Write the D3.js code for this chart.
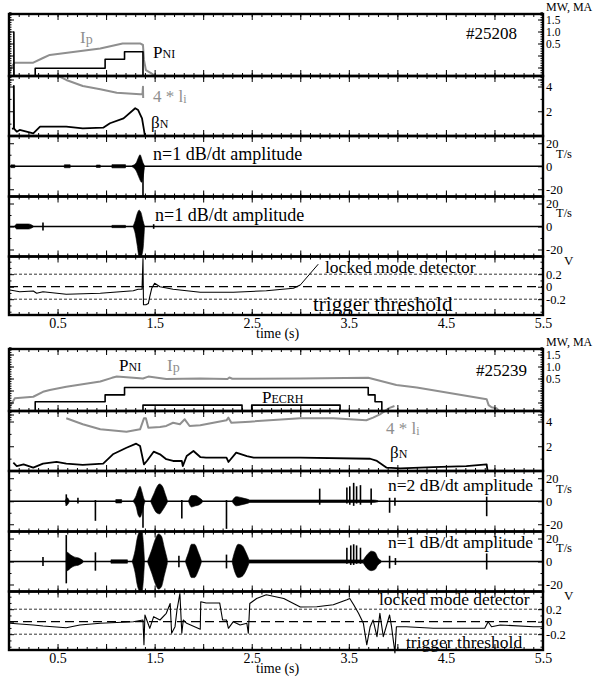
<!DOCTYPE html>
<html><head><meta charset="utf-8">
<script src="https://cdn.jsdelivr.net/npm/d3@7"></script>
<style>
body{margin:0;background:#fff}
svg{display:block}
text{font-family:"Liberation Serif","Times New Roman",serif;fill:#000}
</style>
</head><body><svg id="c" width="603" height="681"></svg>
<script>
// ---------------- DATA ----------------
const timeDomain = [0, 5.5];
const xTickLabels = [0.5, 1.5, 2.5, 3.5, 4.5, 5.5];
const p1Labels = [0.5, 1.0, 1.5];
const p2Labels = [2, 4];
const p3Labels = [-20, 0, 20];
const p5Labels = [-0.2, 0, 0.2];
const thresholds = [0.2, -0.2];

// Shot #25208
const a_shot = "#25208";
const a_ip = [[0,0.06],[0.03,0.32],[0.06,0.43],[0.25,0.43],[0.35,0.58],[0.42,0.68],[0.6,0.75],[0.94,0.89],[1.17,1.05],[1.35,1.05],[1.38,1.0],[1.39,0.52],[1.41,0.19],[1.48,0.06],[1.5,0]];
const a_pni = [[0.05,0],[0.05,1.42],[0.052,0],[0.27,0],[0.27,0.25],[0.99,0.25],[0.99,0.54],[1.19,0.54],[1.19,0.78],[1.38,0.78],[1.38,0]];
const a_li = [[0.51,4.85],[0.59,4.53],[0.76,4.04],[0.94,3.78],[1.11,3.5],[1.35,3.37],[1.375,3.4],[1.38,3.99],[1.382,3.07]];
const a_bn = [[0.03,0.6],[0.05,0.62],[0.05,4.04],[0.052,0.6],[0.08,0.35],[0.11,0.49],[0.18,0.35],[0.25,0.22],[0.32,0.75],[0.59,0.75],[0.76,0.62],[0.97,0.67],[1.04,1.03],[1.18,1.43],[1.30,2.24],[1.33,2.1],[1.37,1.43],[1.39,0.49],[1.40,0]];
const a_n1a_bursts = [
  [[0.02,1.2,-1.2],[0.06,1.2,-1.2]],
  [[0.57,1.3,-1.3],[0.63,1.3,-1.3]],
  [[0.90,1.1,-1.1],[0.94,1.1,-1.1]],
  [[1.06,1.4,-1.4],[1.20,1.4,-1.4]],
  [[1.27,0.6,-0.6],[1.31,3,-4],[1.335,8,-9],[1.35,10,-12],[1.365,7,-14],[1.38,3,-10],[1.395,0.6,-1]]
];
const a_n1a_spikes = [[1.38,-26.3,2]];
const a_n1b_bursts = [
  [[0.06,0.5,-0.5],[0.08,2.2,-2.2],[0.2,2.2,-2.2],[0.25,0.5,-0.5]],
  [[1.06,1,-1],[1.2,1,-1]],
  [[1.28,0.6,-0.6],[1.30,5,-6],[1.32,11,-16],[1.34,14.2,-26],[1.36,12,-26],[1.38,5,-20],[1.395,0.6,-1]]
];
const a_n1b_spikes = [[0.35,-3.5,3.5],[1.49,-2,2]];
const a_lm = [[0.01,-0.053],[0.11,-0.08],[0.25,-0.069],[0.285,-0.106],[0.35,-0.08],[0.59,-0.12],[0.94,-0.106],[1.28,-0.064],[1.33,-0.042],[1.37,-0.042],[1.38,0.45],[1.385,-0.29],[1.41,-0.29],[1.435,-0.27],[1.45,-0.16],[1.47,-0.026],[1.50,0.054],[1.555,0],[1.69,-0.042],[1.97,-0.09],[2.31,-0.09],[2.65,-0.064],[2.93,-0.026],[3.0,0.027]];
const a_pointer = [[3.0,0.027],[3.185,0.36]];

// Shot #25239
const b_shot = "#25239";
const b_ip = [[0,0.09],[0.06,0.41],[0.25,0.46],[0.35,0.62],[0.42,0.68],[0.59,0.78],[0.94,0.95],[1.06,1.07],[1.11,1.11],[1.38,1.05],[1.435,1.11],[1.62,1.03],[1.97,1.05],[2.25,1.03],[2.27,1.08],[2.3,1.04],[3.0,1.05],[3.70,1.07],[3.99,0.84],[4.2,0.76],[4.92,0.38],[4.94,0.19],[4.97,0.12],[5.02,0.09],[5.05,0]];
const b_pni = [[0.27,0],[0.27,0.3],[0.99,0.3],[0.99,0.52],[1.19,0.52],[1.19,0.76],[3.70,0.76],[3.70,0.52],[3.77,0.52],[3.77,0.3],[3.84,0.3],[3.84,0]];
const b_ecrh = [[1.38,0],[1.38,0.19],[2.40,0.19],[2.40,0],[2.50,0],[2.50,0.19],[3.41,0.19],[3.41,0]];
const b_li = [[0.59,4.26],[0.76,3.78],[0.94,3.37],[1.21,3.18],[1.35,3.37],[1.39,4.26],[1.41,4.26],[1.435,3.5],[1.555,3.56],[1.62,3.64],[1.69,3.9],[1.76,3.78],[1.81,4.18],[1.86,3.64],[1.97,3.69],[2.24,4.1],[2.26,4.31],[2.29,3.9],[2.48,3.99],[3.0,4.26],[3.34,4.26],[3.68,4.1],[3.75,4.31],[3.82,4.58],[3.92,5.1],[3.97,5.25]];
const b_bn = [[0.045,0.67],[0.08,0.4],[0.15,0.54],[0.25,0.27],[0.35,0.59],[0.49,0.73],[0.59,0.59],[0.76,0.49],[0.97,0.59],[1.07,1.35],[1.21,1.88],[1.31,2.21],[1.35,2.02],[1.39,0.54],[1.42,0.81],[1.49,1.56],[1.555,1.35],[1.62,0.95],[1.69,0.81],[1.78,0.81],[1.79,0.4],[1.83,1.21],[1.90,1.62],[1.97,1.13],[2.03,1.08],[2.24,1.08],[2.26,0.73],[2.34,1.48],[2.45,1.21],[2.52,1.08],[3.0,1.08],[3.72,0.99],[3.79,0.81],[3.89,0.27],[4.03,0.22],[4.37,0.32],[4.71,0.4],[4.92,0.54],[4.925,0.22],[4.93,0]];
const b_n2_bursts = [
  [[0.58,0.5,-0.5],[0.6,3,-3],[0.62,0.5,-0.5]],
  [[1.10,1.5,-1.5],[1.16,1.5,-1.5]],
  [[1.28,0.5,-0.5],[1.31,5,-5],[1.33,10,-12],[1.35,13,-14],[1.37,8,-10],[1.39,2,-3],[1.40,0.5,-0.5]],
  [[1.46,0.5,-0.5],[1.49,6,-6],[1.52,12,-10],[1.55,15,-11],[1.58,13,-8],[1.61,6,-4],[1.63,1,-1]],
  [[1.85,0.5,-0.5],[1.88,5,-5],[1.92,5,-4],[1.96,3,-3],[1.99,1,-1]],
  [[2.30,0.5,-0.5],[2.34,4,-4],[2.40,3,-3],[2.47,1.5,-1.5]],
  [[2.47,1.1,-1.1],[3.75,1.1,-1.1],[3.8,0.5,-0.5]]
];
const b_n2_spikes = [[0.59,-4,6],[0.71,-2,3],[0.89,-17,1],[1.38,-23,1],[1.78,-15,1],[2.24,-24,1],[3.2,-3,11],[3.48,-2,12],[3.51,-3,13],[3.55,-4,16],[3.58,-2,13],[3.62,-3,14],[3.73,-3,11],[3.92,-10,3],[3.975,-4,3],[4.92,-13,4]];
const b_n1_bursts = [
  [[0.59,0.5,-0.5],[0.6,8,-8],[0.63,6,-6],[0.67,4,-4],[0.72,3,-3],[0.76,1,-1]],
  [[1.05,1.5,-1.5],[1.22,1.5,-1.5]],
  [[1.27,0.5,-0.5],[1.30,10,-10],[1.32,20,-20],[1.35,26,-26],[1.37,26,-26],[1.385,15,-15],[1.395,1,-1]],
  [[1.43,1,-1],[1.47,10,-10],[1.51,20,-20],[1.54,24,-24],[1.57,22,-22],[1.60,12,-12],[1.63,2,-2]],
  [[1.82,1,-1],[1.85,8,-8],[1.88,15,-14],[1.91,15,-14],[1.95,8,-8],[1.98,1,-1]],
  [[2.30,1,-1],[2.33,10,-10],[2.36,15,-14],[2.40,14,-13],[2.44,8,-8],[2.47,2,-2]],
  [[2.47,1.4,-1.4],[3.65,1.4,-1.4]],
  [[3.65,1.5,-1.5],[3.70,7,-7],[3.73,9,-8],[3.77,8,-7],[3.80,3,-3],[3.83,1,-1]]
];
const b_n1_spikes = [[0.35,-4,4],[0.59,-19,23],[0.89,-8,8],[1.75,-5,5],[2.24,-6,6],[3.48,-2,12],[3.52,-3,14],[3.55,-3,15],[3.58,-2,14],[3.62,-2,12],[3.92,-6,5],[3.98,-3,3],[4.92,-7,7]];
const b_lm = [[0.01,-0.026],[0.11,-0.037],[0.25,-0.053],[0.35,-0.069],[0.59,-0.096],[0.73,-0.053],[0.94,-0.026],[1.28,0],[1.38,0.027],[1.39,-0.37],[1.40,0.107],[1.45,-0.106],[1.49,0.08],[1.555,0.027],[1.62,0.134],[1.66,0.29],[1.675,-0.186],[1.71,-0.08],[1.73,0.187],[1.76,0.45],[1.78,-0.186],[1.795,0.027],[1.83,-0.026],[1.97,-0.12],[1.975,0.32],[2.03,0.30],[2.17,0.30],[2.2,0.027],[2.24,0.027],[2.26,-0.106],[2.31,0],[2.38,-0.053],[2.45,-0.026],[2.465,-0.186],[2.48,0.29],[2.55,0.37],[2.65,0.43],[2.83,0.37],[3.0,0.235],[3.17,0.24],[3.34,0.27],[3.48,0.35],[3.51,0.37],[3.55,0.27],[3.60,0.134],[3.65,-0.026],[3.685,-0.37],[3.72,-0.08],[3.75,0.027],[3.79,-0.24],[3.82,0.134],[3.855,-0.24],[3.92,0.107],[3.94,-0.08],[3.975,-0.5],[3.99,-0.08],[4.09,-0.08],[4.37,-0.106],[4.9,-0.106],[4.935,0],[4.97,-0.08],[5.06,-0.053],[5.4,-0.08],[5.5,-0.08]];

// ---------------- LAYOUT ----------------
const L = 9, R = 543;
const edges = [14, 76, 136, 196.5, 256.5, 315];
const GRAY = "#8f8f8f";
const svg = d3.select("#c");
const x = d3.scaleLinear().domain(timeDomain).range([L, R]);

function makeScales() {
  return {
    p1: d3.scaleLinear().domain([0, 2]).range([edges[1], edges[0]]),
    p1lab: d3.scaleLinear().domain([0.5, 1.5]).range([43.5, 19.5]),
    p2: d3.scaleLinear().domain([0, 4.85]).range([edges[2], edges[1]]),
    p3: d3.scaleLinear().domain([-26.3, 26.3]).range([edges[3], edges[2]]),
    p4: d3.scaleLinear().domain([-26.1, 26.1]).range([edges[4], edges[3]]),
    p5: d3.scaleLinear().domain([-0.453, 0.483]).range([edges[5], edges[4]])
  };
}

function drawLine(g, data, y, color, w, dash) {
  g.append("path").datum(data)
    .attr("d", d3.line().x(d => x(d[0])).y(d => y(d[1])))
    .attr("fill", "none").attr("stroke", color).attr("stroke-width", w)
    .attr("stroke-linejoin", "round")
    .attr("stroke-dasharray", dash || null);
}
function drawSignal(g, bursts, spikes, y) {
  drawLine(g, [[0.01, 0], [5.5, 0]], y, "#000", 1.4);
  const area = d3.area().x(d => x(d[0])).y0(d => y(d[2])).y1(d => y(d[1])).curve(d3.curveMonotoneX);
  bursts.forEach(b => g.append("path").datum(b).attr("d", area).attr("fill", "#000").attr("stroke", "#000").attr("stroke-width", 0.6));
  g.selectAll(null).data(spikes).enter().append("line")
    .attr("x1", d => x(d[0])).attr("x2", d => x(d[0]))
    .attr("y1", d => y(d[1])).attr("y2", d => y(d[2]))
    .attr("stroke", "#000").attr("stroke-width", 1.6);
}

function ticksX(g) {
  for (let i = 0; i < 5; i++) {
    [[0.1, 3], [0.5, 6]].forEach(([step, len]) => {
      const vals = d3.range(0, 5.5001, step);
      g.append("g").attr("transform", `translate(0,${edges[i]})`)
        .call(d3.axisTop(x).tickValues(vals).tickSize(-len).tickFormat(""))
        .call(s => s.select(".domain").remove());
      g.append("g").attr("transform", `translate(0,${edges[i + 1]})`)
        .call(d3.axisBottom(x).tickValues(vals).tickSize(-len).tickFormat(""))
        .call(s => s.select(".domain").remove());
    });
  }
}
function ticksY(g, scale, minor, major) {
  [[minor, 2.5], [major, 5]].forEach(([vals, len]) => {
    g.append("g").attr("transform", `translate(${R},0)`)
      .call(d3.axisRight(scale).tickValues(vals).tickSize(-len).tickFormat(""))
      .call(s => s.select(".domain").remove());
    g.append("g").attr("transform", `translate(${L},0)`)
      .call(d3.axisLeft(scale).tickValues(vals).tickSize(-len).tickFormat(""))
      .call(s => s.select(".domain").remove());
  });
}
function labelsY(g, scale, vals, fmt, size) {
  g.append("g").attr("transform", `translate(${R},0)`)
    .call(d3.axisRight(scale).tickValues(vals).tickSize(0).tickPadding(3).tickFormat(fmt))
    .call(s => s.select(".domain").remove())
    .call(s => s.selectAll("text").style("font-size", (size || 12.5) + "px").style("font-family", "Liberation Serif"));
}
const fmtPlain = v => (v < 0 ? "-" : "") + Math.abs(v);
const fmt1 = v => v.toFixed(1);

function drawFigure(off, cfg) {
  const g = svg.append("g").attr("transform", `translate(0,${off})`);
  const s = makeScales();
  // panel 1
  drawLine(g, cfg.ip, s.p1, GRAY, 2);
  drawLine(g, cfg.pni, s.p1, "#000", 1.6);
  if (cfg.ecrh) drawLine(g, cfg.ecrh, s.p1, "#000", 1.6);
  // panel 2
  drawLine(g, cfg.li, s.p2, GRAY, 2);
  drawLine(g, cfg.bn, s.p2, "#000", 1.8);
  // panels 3,4
  drawSignal(g, cfg.s3b, cfg.s3s, s.p3);
  drawSignal(g, cfg.s4b, cfg.s4s, s.p4);
  // panel 5
  thresholds.forEach(t => drawLine(g, [[0, t], [5.5, t]], s.p5, "#000", 0.8, "3,2"));
  drawLine(g, [[0, 0], [5.5, 0]], s.p5, "#000", 1.3, "9,5");
  drawLine(g, cfg.lm, s.p5, "#000", 1.1);
  if (cfg.pointer) drawLine(g, cfg.pointer, s.p5, "#000", 1);
  // ticks
  ticksX(g);
  ticksY(g, s.p1lab, d3.range(-1.2, 1.85, 0.1), [-1, -0.5, 0, 0.5, 1, 1.5]);
  ticksY(g, s.p2, [1, 3], [2, 4]);
  ticksY(g, s.p3, [-10, 10], [-20, 0, 20]);
  ticksY(g, s.p4, [-10, 10], [-20, 0, 20]);
  ticksY(g, s.p5, [-0.4, -0.3, -0.1, 0.1, 0.3, 0.4], [-0.2, 0, 0.2]);
  // frames
  for (let i = 0; i < 5; i++) {
    g.append("rect").attr("x", L).attr("y", edges[i]).attr("width", R - L).attr("height", edges[i + 1] - edges[i])
      .attr("fill", "none").attr("stroke", "#000").attr("stroke-width", 2.4);
  }
  // right labels
  labelsY(g, s.p1lab, p1Labels, fmt1, 11.5);
  labelsY(g, s.p2, p2Labels, fmtPlain);
  labelsY(g, s.p3, p3Labels, fmtPlain);
  labelsY(g, s.p4, p3Labels, fmtPlain);
  labelsY(g, s.p5, p5Labels, fmtPlain);
  // x labels
  g.append("g").attr("transform", `translate(0,${edges[5]})`)
    .call(d3.axisBottom(x).tickValues(xTickLabels).tickSize(0).tickPadding(3).tickFormat(d3.format(".1f")))
    .call(s2 => s2.select(".domain").remove())
    .call(s2 => s2.selectAll("text").style("font-size", "14px").style("font-family", "Liberation Serif"));
  // units
  const t = (txt, xx, yy, size) => g.append("text").attr("x", xx).attr("y", yy).style("font-size", size + "px").text(txt);
  t("MW, MA", 546, 10.5, 12);
  t("T/s", 556, 158, 12.5);
  t("T/s", 556, 217, 12.5);
  t("V", 564, 265, 13);
  t("time  (s)", 256, cfg.timeY, 14);
}

function rich(parts, xx, yy, color) {
  const tx = svg.append("text").attr("x", xx).attr("y", yy).style("fill", color || "#000");
  parts.forEach(p => tx.append("tspan").style("font-size", p[1] + "px").attr("dy", p[2] || 0).text(p[0]));
}

drawFigure(0, {ip: a_ip, pni: a_pni, li: a_li, bn: a_bn, s3b: a_n1a_bursts, s3s: a_n1a_spikes, s4b: a_n1b_bursts, s4s: a_n1b_spikes, lm: a_lm, pointer: a_pointer, timeY: 338});
drawFigure(335, {ip: b_ip, pni: b_pni, ecrh: b_ecrh, li: b_li, bn: b_bn, s3b: b_n2_bursts, s3s: b_n2_spikes, s4b: b_n1_bursts, s4s: b_n1_spikes, lm: b_lm, timeY: 338});

// annotations figure 1
rich([["I",17],["p",14,1]], 80, 43, GRAY);
rich([["P",17],["NI",12]], 153, 58);
rich([[a_shot,17]], 466, 39);
rich([["4 * l",17],["i",12,1]], 153, 102, GRAY);
rich([["β",17],["N",12]], 151, 128);
rich([["n=1 dB/dt amplitude",18]], 153, 160);
rich([["n=1 dB/dt amplitude",18]], 155, 221);
rich([["locked mode detector",17.5]], 325, 273);
rich([["trigger threshold",21]], 313, 311);
// annotations figure 2
rich([["P",17],["NI",12]], 119, 371);
rich([["I",17],["p",14,1]], 167, 371, GRAY);
rich([["P",17],["ECRH",12]], 262, 403);
rich([[b_shot,17]], 476, 376);
rich([["4 * l",17],["i",12,1]], 386, 434, GRAY);
rich([["β",17],["N",12]], 390, 458);
rich([["n=2 dB/dt amplitude",17.5]], 388, 491);
rich([["n=1 dB/dt amplitude",17.5]], 388, 548);
rich([["locked mode detector",17.5]], 379, 605);
rich([["trigger threshold",17.5]], 406, 648);
</script></body></html>
